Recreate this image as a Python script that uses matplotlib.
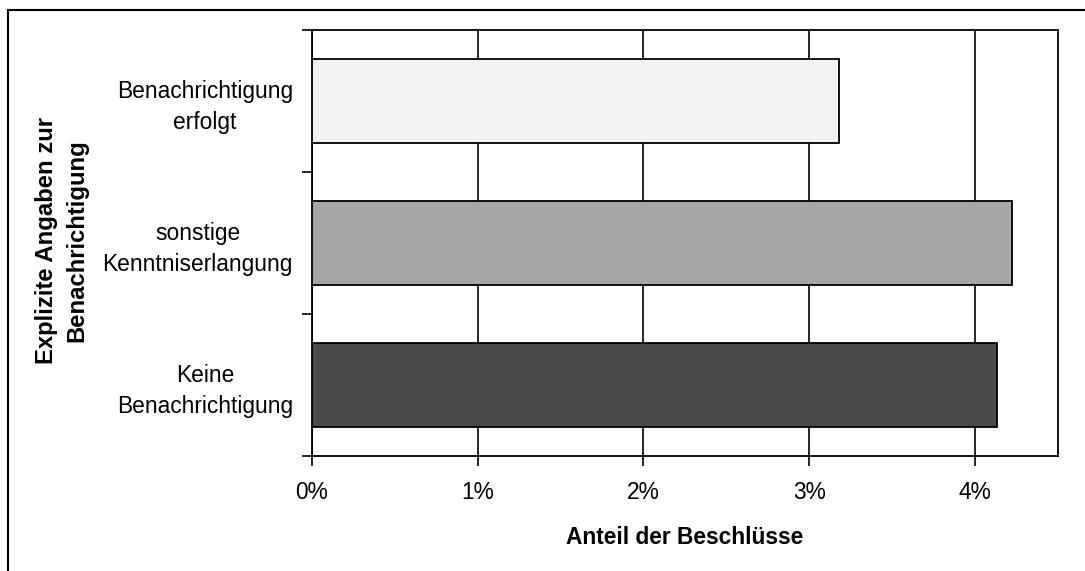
import matplotlib
matplotlib.use("Agg")
import matplotlib.pyplot as plt
from matplotlib.patches import Rectangle
from matplotlib.ticker import FuncFormatter

plt.rcParams["font.family"] = ["Liberation Sans", "DejaVu Sans"]

# ── Daten ────────────────────────────────────────────────────────────────
kategorien = ["Keine\nBenachrichtigung",
              "sonstige\nKenntniserlangung",
              "Benachrichtigung\nerfolgt"]
anteile = [4.13, 4.22, 3.18]          # Prozent
farben = ["#4a4a4a", "#a6a6a6", "#f2f2f2"]
x_ticks = [0, 1, 2, 3, 4]

W, H = 1085, 571
fig = plt.figure(figsize=(W / 100, H / 100), dpi=100)
ax = fig.add_axes([311.7 / W, 1 - 455.7 / H, (1058 - 311.7) / W, (455.7 - 29.7) / H])

pos = list(range(len(kategorien)))
ax.barh(pos, anteile, height=0.59, color=farben, edgecolor="black",
        linewidth=1.3, zorder=3)

ax.set_xlim(0, 4.5)
ax.set_ylim(-0.5, 2.5)
ax.set_xticks(x_ticks)
ax.xaxis.set_major_formatter(FuncFormatter(lambda v, _: f"{v:.0f}%"))
ax.grid(axis="x", color="black", linewidth=1.2, zorder=0)

# Ticks an Kategoriegrenzen, Beschriftung in der Mitte
ax.set_yticks([-0.5, 0.5, 1.5, 2.5])
ax.set_yticklabels([])
ax.set_yticks(pos, minor=True)
ax.set_yticklabels(kategorien, minor=True, multialignment="center",
                   linespacing=1.42)
ax.tick_params(axis="y", which="major", length=7, width=1.2, direction="out")
ax.tick_params(axis="y", which="minor", length=0, pad=13.5, labelsize=16.4)
ax.tick_params(axis="x", length=7.5, width=1.2, direction="out", pad=10.5,
               labelsize=16.4)

for s in ax.spines.values():
    s.set_linewidth(1.3)
    s.set_color("black")

fig.text(684.9 / W, 1 - 537 / H, "Anteil der Beschlüsse", ha="center",
         va="center", fontsize=16.4, fontweight="bold")
fig.text(61.5 / W, 1 - 241 / H, "Explizite Angaben zur\nBenachrichtigung",
         rotation=90, ha="center", va="center", multialignment="center",
         fontsize=17.2, fontweight="bold", linespacing=1.4)

# Rahmen um das Diagramm
fig.patches.append(Rectangle((8 / W, -0.05), 1.1, 1 - 10 / H + 0.05,
                             transform=fig.transFigure, fill=False,
                             edgecolor="black", linewidth=1.5))

fig.savefig("out.png", dpi=100)
